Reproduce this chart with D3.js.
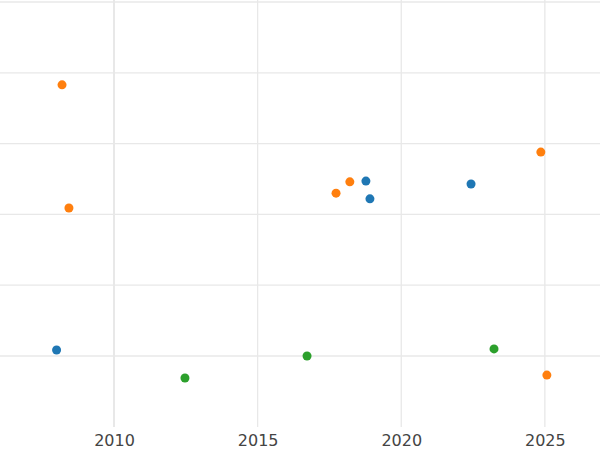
<!DOCTYPE html><html><head><meta charset="utf-8"><script src="https://cdn.jsdelivr.net/npm/d3@7"></script>
<style>body{margin:0;background:#fff}</style></head><body><svg width="600" height="450"></svg>
<script>
const blueX=[2008.0,2018.77,2018.91,2022.43], blueY=[1.085,3.47,3.22,3.43];
const orangeX=[2008.19,2008.43,2017.73,2018.21,2024.86,2025.07], orangeY=[4.83,3.09,3.30,3.46,3.88,0.73];
const greenX=[2012.47,2016.72,2023.23], greenY=[0.69,1.0,1.10];
const xTicks=[2010,2015,2020,2025], yGrid=[1,2,3,4,5,6];
const svg=d3.select("svg");
const x=d3.scaleLinear().domain([2006.03,2026.92]).range([0,600]);
const y=d3.scaleLinear().domain([0,6]).range([426.8,2]);
svg.append("g").selectAll("line").data(yGrid).join("line").attr("x1",0).attr("x2",600)
 .attr("y1",d=>y(d)).attr("y2",d=>y(d)).attr("stroke","#e8e8e8").attr("stroke-width",1.3);
svg.append("g").selectAll("line").data(xTicks).join("line").attr("y1",0).attr("y2",427)
 .attr("x1",d=>x(d)).attr("x2",d=>x(d)).attr("stroke","#e8e8e8").attr("stroke-width",d=>d==2010?2:1.3);
const ax=svg.append("g").attr("transform","translate(0,427)").call(d3.axisBottom(x).tickValues(xTicks).tickFormat(d3.format("d")).tickSize(0).tickPadding(8));
ax.select(".domain").remove();
ax.selectAll("text").attr("font-family","DejaVu Sans").attr("font-size",16).attr("fill","#444");
function pts(X,Y,c){svg.append("g").selectAll("circle").data(X).join("circle").attr("cx",d=>x(d)).attr("cy",(d,i)=>y(Y[i])).attr("r",4.5).attr("fill",c);}
pts(blueX,blueY,"#1f77b4");pts(orangeX,orangeY,"#ff7f0e");pts(greenX,greenY,"#2ca02c");
</script></body></html>
